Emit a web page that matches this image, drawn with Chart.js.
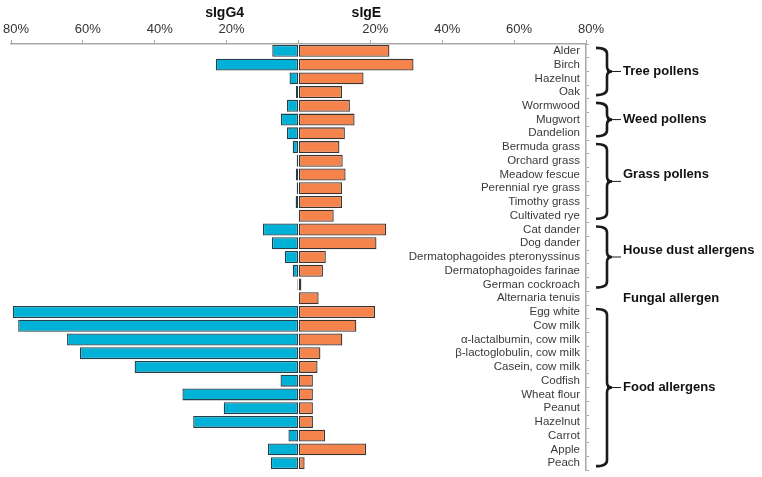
<!DOCTYPE html>
<html>
<head>
<meta charset="utf-8">
<script src="https://cdn.jsdelivr.net/npm/chart.js@4"></script>
<style>
  html, body { margin: 0; padding: 0; background: #fff; }
  #wrap { width: 762px; height: 477px; }
</style>
</head>
<body>
<div id="wrap"><canvas id="chart"></canvas></div>
<script>
// allergens, top to bottom
const allergens = [
    'Alder', 'Birch', 'Hazelnut', 'Oak',
    'Wormwood', 'Mugwort', 'Dandelion',
    'Bermuda grass', 'Orchard grass', 'Meadow fescue', 'Perennial rye grass', 'Timothy grass', 'Cultivated rye',
    'Cat dander', 'Dog dander', 'Dermatophagoides pteronyssinus', 'Dermatophagoides farinae', 'German cockroach',
    'Alternaria tenuis',
    'Egg white', 'Cow milk', 'α-lactalbumin, cow milk', 'β-lactoglobulin, cow milk', 'Casein, cow milk',
    'Codfish', 'Wheat flour', 'Peanut', 'Hazelnut', 'Carrot', 'Apple', 'Peach'
];

// % of patients, sIgG4 goes to the left
const sIgG4 = [7.3, 23, 2.5, 0.7, 3.2, 4.9, 3.2, 1.6, 0.5, 0.7, 0.5, 0.8, 0.2,
    9.9, 7.4, 3.8, 1.6, 0.3, 0, 79.5, 78, 64.4, 60.8, 45.6, 5, 32.3, 20.8, 29.3, 2.8, 8.5, 7.7];
const sIgE = [25.3, 32, 18.1, 12.1, 14.3, 15.6, 12.9, 11.4, 12.3, 13.1, 12.1, 12.1, 9.8,
    24.4, 21.7, 7.6, 6.8, 0.8, 5.6, 21.3, 16.1, 12.2, 6.1, 5.3, 4, 4, 4, 4, 7.4, 18.8, 1.7];

const xTicks = [-80, -60, -40, -20, 0, 20, 40, 60, 80];

// groups: first and last allergen index
const groupNames = ['Tree pollens', 'Weed pollens', 'Grass pollens', 'House dust allergens', 'Fungal allergen', 'Food allergens'];
const groupFrom = [0, 4, 7, 13, 18, 19];
const groupTo = [3, 6, 12, 17, 18, 30];

const FONT = '"Liberation Sans", Arial, sans-serif';

// brackets and group names on the right, series titles on top
const groupPlugin = {
    id: 'groups',
    afterDraw(chart) {
        const ctx = chart.ctx;
        const x = chart.scales.x;
        const y = chart.scales.y;
        ctx.save();
        ctx.fillStyle = '#111';
        ctx.font = 'bold 14px ' + FONT;
        ctx.textAlign = 'center';
        ctx.textBaseline = 'middle';
        ctx.fillText('sIgG4', x.getPixelForValue(-20) - 2, 13);
        ctx.fillText('sIgE', x.getPixelForValue(20) - 4, 13);

        const x0 = 596, xs = 607, xp = 612;
        ctx.font = 'bold 13px ' + FONT;
        ctx.textAlign = 'left';
        groupNames.forEach((name, i) => {
            const top = y.getPixelForValue(groupFrom[i]) - 3;
            const bottom = y.getPixelForValue(groupTo[i]) + 3;
            const mid = (top + bottom) / 2;
            let ly = mid;
            if (groupFrom[i] !== groupTo[i]) {
                ctx.strokeStyle = '#1a1a1a';
                ctx.lineWidth = 2.6;
                ctx.beginPath();
                ctx.moveTo(x0, top);
                ctx.quadraticCurveTo(xs, top, xs, top + 6);
                ctx.lineTo(xs, mid - 5);
                ctx.quadraticCurveTo(xs, mid, xp, mid);
                ctx.quadraticCurveTo(xs, mid, xs, mid + 5);
                ctx.lineTo(xs, bottom - 6);
                ctx.quadraticCurveTo(xs, bottom, x0, bottom);
                ctx.stroke();
                ctx.lineWidth = 1;
                ctx.beginPath();
                ctx.moveTo(xs, mid);
                ctx.lineTo(621, mid);
                ctx.stroke();
                // mid-size groups have the name a bit above the point
                if (groupTo[i] - groupFrom[i] > 3) ly = mid - 7;
                if (groupTo[i] - groupFrom[i] > 8) ly = mid;
            }
            ctx.fillText(name, 623, ly);
        });
        ctx.restore();
    }
};

const ctx = document.getElementById('chart').getContext('2d');
new Chart(ctx, {
    type: 'bar',
    data: {
        labels: allergens,
        datasets: [{
            label: 'sIgG4',
            data: sIgG4.map(v => -v),
            backgroundColor: '#00b1d7',
            borderColor: '#24404a',
            borderWidth: 1.3,
            borderSkipped: false,
            barPercentage: 0.87,
            categoryPercentage: 1
        }, {
            label: 'sIgE',
            data: sIgE,
            backgroundColor: '#f5844c',
            borderColor: '#3a3330',
            borderWidth: 1.3,
            borderSkipped: false,
            barPercentage: 0.87,
            categoryPercentage: 1
        }]
    },
    options: {
        indexAxis: 'y',
        responsive: true,
        maintainAspectRatio: false,
        animation: false,
        layout: { padding: { top: 0, left: 11, right: 176, bottom: 7 } },
        plugins: {
            legend: { display: false },
            tooltip: { enabled: false }
        },
        scales: {
            x: {
                position: 'top',
                stacked: true,
                min: -80,
                max: 80,
                afterBuildTicks: s => { s.ticks = xTicks.map(v => ({ value: v })); },
                afterFit: s => { s.height = 44; s.paddingLeft = 0; s.paddingRight = 0; },
                grid: { drawOnChartArea: false, tickLength: 4, color: '#a8a8a8' },
                border: { color: '#a8a8a8', width: 1.5 },
                ticks: {
                    padding: 3,
                    labelOffset: 5,
                    color: '#333',
                    font: { family: FONT, size: 13 },
                    callback: v => v === 0 ? '' : Math.abs(v) + '%'
                }
            },
            y: {
                position: 'right',
                stacked: true,
                afterFit: s => { s.paddingTop = 0; s.paddingBottom = 0; },
                grid: { drawOnChartArea: false, tickLength: 3, color: '#a8a8a8' },
                border: { color: '#a8a8a8', width: 1.5 },
                ticks: {
                    mirror: true,
                    padding: -6,
                    color: '#3a3a3a',
                    autoSkip: false,
                    font: { family: FONT, size: 11.5 }
                }
            }
        }
    },
    plugins: [groupPlugin]
});
</script>
</body>
</html>
